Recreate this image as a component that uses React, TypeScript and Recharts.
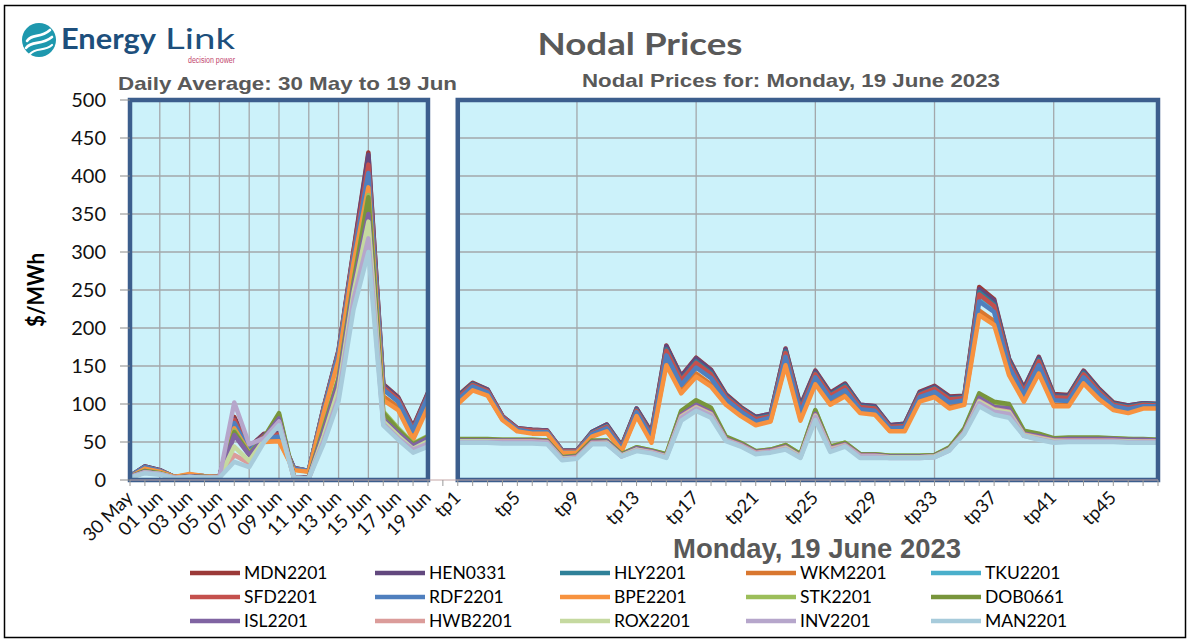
import React from 'react';
import { LineChart, Line, XAxis, YAxis, ReferenceArea, ReferenceLine } from 'recharts';

// ---------- categories & tick labels ----------
const days = ['30 May', '31 May', '01 Jun', '02 Jun', '03 Jun', '04 Jun', '05 Jun', '06 Jun', '07 Jun', '08 Jun', '09 Jun',
  '10 Jun', '11 Jun', '12 Jun', '13 Jun', '14 Jun', '15 Jun', '16 Jun', '17 Jun', '18 Jun', '19 Jun'];
const GAP = ' ';
const tps = ['tp1', 'tp2', 'tp3', 'tp4', 'tp5', 'tp6', 'tp7', 'tp8', 'tp9', 'tp10', 'tp11', 'tp12', 'tp13', 'tp14', 'tp15', 'tp16',
  'tp17', 'tp18', 'tp19', 'tp20', 'tp21', 'tp22', 'tp23', 'tp24', 'tp25', 'tp26', 'tp27', 'tp28', 'tp29', 'tp30', 'tp31', 'tp32',
  'tp33', 'tp34', 'tp35', 'tp36', 'tp37', 'tp38', 'tp39', 'tp40', 'tp41', 'tp42', 'tp43', 'tp44', 'tp45', 'tp46', 'tp47', 'tp48'];
const shownTickLabels = ['30 May', '01 Jun', '03 Jun', '05 Jun', '07 Jun', '09 Jun', '11 Jun', '13 Jun', '15 Jun', '17 Jun', '19 Jun',
  'tp1', 'tp5', 'tp9', 'tp13', 'tp17', 'tp21', 'tp25', 'tp29', 'tp33', 'tp37', 'tp41', 'tp45'];
const dayGridCats = ['01 Jun', '03 Jun', '05 Jun', '07 Jun', '09 Jun', '11 Jun', '13 Jun', '15 Jun', '17 Jun'];
const tpGridCats = ['tp9', 'tp17', 'tp25', 'tp33', 'tp41'];
const yTicks = [0, 50, 100, 150, 200, 250, 300, 350, 400, 450, 500];
const yGrid = [50, 100, 150, 200, 250, 300, 350, 400, 450];

// ---------- daily averages (30 May .. 19 Jun) ----------
const MDN2201_daily = [5, 18, 13, 4, 6, 5, 4, 83, 43, 61, 62, 16, 12, 96, 171, 302, 431, 126, 109, 70, 115];
const HEN0331_daily = [5, 18, 13, 4, 6, 5, 4, 80, 43, 60, 62, 16, 12, 95, 170, 300, 428, 125, 108, 69, 114];
const HLY2201_daily = [5, 17, 12, 4, 6, 5, 4, 77, 41, 58, 59, 15, 12, 94, 168, 296, 410, 122, 106, 67, 112];
const WKM2201_daily = [5, 16, 12, 4, 7, 5, 4, 70, 37, 53, 53, 14, 11, 90, 161, 289, 390, 110, 96, 58, 100];
const TKU2201_daily = [5, 17, 12, 4, 6, 5, 4, 76, 40, 57, 58, 15, 12, 93, 167, 294, 406, 120, 104, 65, 110];
const SFD2201_daily = [5, 17, 12, 4, 6, 5, 4, 79, 41, 58, 60, 15, 12, 94, 168, 297, 415, 122, 106, 67, 112];
const RDF2201_daily = [5, 17, 12, 4, 6, 5, 4, 75, 39, 56, 57, 15, 12, 92, 166, 292, 404, 119, 103, 65, 110];
const BPE2201_daily = [4, 15, 11, 4, 8, 5, 4, 68, 36, 50, 51, 13, 11, 88, 158, 285, 385, 105, 92, 53, 96];
const STK2201_daily = [4, 12, 9, 3, 5, 4, 3, 65, 35, 55, 86, 4, 3, 70, 135, 262, 375, 90, 68, 48, 58];
const DOB0661_daily = [4, 12, 9, 3, 5, 4, 3, 63, 34, 56, 88, 4, 3, 68, 133, 260, 372, 88, 66, 47, 57];
const ISL2201_daily = [4, 11, 8, 3, 5, 4, 3, 59, 33, 55, 81, 4, 3, 65, 130, 255, 350, 80, 62, 45, 55];
const HWB2201_daily = [3, 10, 8, 3, 4, 3, 3, 33, 22, 52, 75, 3, 2, 56, 116, 242, 335, 76, 57, 40, 50];
const ROX2201_daily = [3, 10, 8, 3, 4, 3, 3, 44, 25, 53, 76, 3, 2, 58, 120, 246, 340, 77, 58, 41, 51];
const INV2201_daily = [4, 10, 8, 3, 4, 3, 3, 102, 47, 55, 77, 3, 2, 52, 110, 237, 318, 74, 55, 40, 48];
const MAN2201_daily = [3, 9, 7, 2, 4, 3, 3, 24, 17, 50, 72, 3, 2, 48, 104, 224, 300, 72, 53, 36, 44];

// ---------- trading periods, Monday 19 June 2023 ----------
const MDN2201_tp = [111, 128, 119, 84, 68, 66, 65, 39, 39, 63, 73, 45, 94, 63, 177, 137, 161, 145, 113, 96, 83, 87, 173, 98, 144, 115, 127, 99, 97, 72, 74, 116, 124, 110, 111, 254, 238, 160, 121, 162, 113, 112, 144, 121, 102, 98, 101, 100];
const HEN0331_tp = [110, 127, 119, 84, 68, 66, 65, 39, 39, 63, 73, 45, 94, 62, 176, 136, 160, 144, 112, 95, 83, 87, 172, 97, 143, 114, 126, 99, 97, 72, 74, 115, 123, 109, 110, 251, 236, 159, 120, 161, 112, 111, 143, 120, 101, 98, 101, 100];
const HLY2201_tp = [109, 126, 117, 83, 67, 65, 64, 38, 38, 62, 71, 44, 92, 60, 172, 132, 156, 141, 110, 94, 81, 85, 169, 94, 140, 112, 124, 97, 95, 70, 72, 113, 121, 107, 109, 247, 231, 156, 117, 158, 110, 109, 141, 118, 100, 96, 100, 99];
const WKM2201_tp = [102, 120, 112, 80, 65, 62, 62, 36, 36, 58, 65, 39, 86, 51, 155, 117, 140, 126, 101, 86, 74, 79, 154, 81, 129, 101, 113, 90, 88, 65, 66, 105, 111, 96, 101, 223, 209, 141, 106, 143, 99, 99, 130, 109, 94, 90, 95, 95];
const TKU2201_tp = [107, 124, 116, 82, 66, 64, 63, 38, 38, 61, 70, 42, 90, 58, 167, 128, 151, 137, 108, 91, 79, 83, 165, 90, 137, 109, 121, 95, 93, 69, 70, 111, 118, 104, 106, 240, 225, 152, 114, 154, 107, 106, 138, 116, 98, 94, 98, 98];
const SFD2201_tp = [108, 125, 117, 83, 67, 65, 64, 38, 38, 61, 70, 43, 91, 59, 170, 131, 154, 139, 109, 93, 80, 84, 167, 92, 139, 111, 122, 96, 94, 70, 71, 112, 120, 106, 108, 244, 229, 154, 116, 156, 109, 108, 139, 117, 99, 95, 99, 98];
const RDF2201_tp = [105, 123, 115, 81, 66, 63, 63, 37, 37, 60, 68, 41, 89, 56, 164, 125, 148, 134, 106, 90, 77, 82, 162, 88, 135, 107, 118, 93, 91, 68, 69, 109, 116, 102, 105, 235, 221, 149, 112, 151, 105, 104, 135, 114, 97, 93, 97, 97];
const BPE2201_tp = [100, 118, 111, 79, 64, 61, 61, 36, 36, 57, 64, 38, 84, 49, 151, 114, 136, 123, 99, 84, 72, 77, 151, 78, 126, 99, 110, 88, 86, 64, 64, 103, 109, 94, 99, 217, 204, 138, 103, 140, 97, 97, 127, 107, 92, 88, 94, 94];
const STK2201_tp = [53, 53, 53, 53, 53, 53, 52, 30, 32, 51, 52, 34, 43, 39, 34, 90, 104, 93, 56, 48, 38, 40, 46, 34, 91, 44, 49, 34, 34, 32, 32, 32, 33, 42, 67, 112, 101, 98, 64, 60, 54, 55, 55, 55, 55, 54, 53, 53];
const DOB0661_tp = [54, 54, 54, 53, 53, 53, 52, 30, 32, 52, 52, 34, 43, 39, 34, 91, 105, 95, 57, 49, 38, 40, 46, 34, 92, 44, 49, 34, 34, 32, 32, 32, 33, 43, 68, 114, 103, 100, 65, 61, 55, 56, 56, 56, 55, 54, 54, 53];
const ISL2201_tp = [52, 52, 52, 52, 52, 52, 51, 29, 31, 50, 51, 33, 42, 38, 32, 86, 99, 89, 54, 47, 37, 39, 44, 32, 87, 42, 47, 33, 33, 31, 31, 31, 32, 41, 64, 108, 96, 94, 61, 58, 53, 54, 54, 54, 54, 53, 53, 52];
const HWB2201_tp = [51, 51, 51, 51, 51, 51, 50, 28, 30, 49, 49, 32, 40, 37, 31, 84, 96, 87, 53, 46, 36, 38, 43, 31, 85, 41, 46, 32, 32, 30, 30, 30, 31, 40, 63, 104, 93, 90, 60, 56, 52, 52, 52, 52, 52, 51, 51, 51];
const ROX2201_tp = [51, 51, 51, 50, 50, 50, 49, 28, 29, 48, 49, 32, 40, 36, 31, 83, 95, 86, 52, 45, 35, 37, 42, 31, 84, 40, 45, 31, 31, 30, 30, 30, 31, 40, 62, 103, 92, 89, 59, 55, 51, 51, 51, 51, 51, 51, 50, 50];
const INV2201_tp = [50, 50, 50, 50, 50, 50, 49, 27, 29, 48, 48, 31, 39, 36, 30, 82, 94, 85, 52, 45, 35, 37, 41, 30, 83, 39, 45, 31, 31, 29, 29, 29, 30, 39, 62, 101, 90, 87, 58, 54, 50, 51, 51, 51, 51, 50, 50, 50];
const MAN2201_tp = [49, 49, 49, 48, 48, 48, 47, 26, 28, 47, 47, 31, 38, 35, 29, 78, 91, 82, 51, 44, 34, 36, 40, 29, 79, 37, 44, 29, 29, 29, 29, 29, 30, 39, 61, 97, 86, 82, 58, 53, 49, 50, 50, 50, 50, 49, 49, 49];

const seriesNames = ['MDN2201', 'HEN0331', 'HLY2201', 'WKM2201', 'TKU2201', 'SFD2201', 'RDF2201', 'BPE2201',
  'STK2201', 'DOB0661', 'ISL2201', 'HWB2201', 'ROX2201', 'INV2201', 'MAN2201'];
const seriesColors = ['#9B3A38', '#62487E', '#2F8199', '#D9772F', '#4AAFCB', '#C4504D', '#4F7FBE', '#F7923F',
  '#9CBE5A', '#78953B', '#8064A2', '#DB9C9A', '#C5D9A0', '#B6A6CB', '#A7CBDB'];
const dailyValues = [MDN2201_daily, HEN0331_daily, HLY2201_daily, WKM2201_daily, TKU2201_daily, SFD2201_daily, RDF2201_daily,
  BPE2201_daily, STK2201_daily, DOB0661_daily, ISL2201_daily, HWB2201_daily, ROX2201_daily, INV2201_daily, MAN2201_daily];
const tpValues = [MDN2201_tp, HEN0331_tp, HLY2201_tp, WKM2201_tp, TKU2201_tp, SFD2201_tp, RDF2201_tp,
  BPE2201_tp, STK2201_tp, DOB0661_tp, ISL2201_tp, HWB2201_tp, ROX2201_tp, INV2201_tp, MAN2201_tp];

const categories = [...days, GAP, ...tps];
const data = categories.map((cat, i) => {
  const row: Record<string, any> = { cat };
  seriesNames.forEach((name, s) => {
    if (i < days.length) row[name] = dailyValues[s][i];
    else if (i === days.length) row[name] = null;
    else row[name] = tpValues[s][i - days.length - 1];
  });
  return row;
});

const PANEL_FILL = '#CCF2FA';
const PANEL_BORDER = '#3C5E8D';
const GRID = '#A3A7AA';
const TITLE_GRAY = '#595959';

const renderXTick = (props: any) => {
  const { x, y, payload } = props;
  const v = payload && payload.value;
  if (!shownTickLabels.includes(v)) return <g />;
  const ax = Number(x) + 4;
  const ay = Number(y) + 11;
  return (
    <text x={0} y={0} transform={`matrix(0.7071 -0.7071 0.7071 0.7071 ${ax} ${ay})`} textAnchor="end"
      fontFamily="Lato, 'Liberation Sans', sans-serif" fontSize={18.5} fill="#111">
      {v}
    </text>
  );
};

const legendCols = [190, 375, 560, 746, 931];
const legendRows = [573, 597, 621];

export default function App() {
  return (
    <div style={{ position: 'absolute', left: 0, top: 0, width: 1190, height: 642, background: '#fff' }}>
      <div style={{ position: 'absolute', left: 0, top: 0 }}>
        <LineChart width={1190} height={642} data={data} margin={{ top: 100, right: 32, bottom: 102, left: 70 }}>
          <XAxis dataKey="cat" interval={0} height={60} tick={renderXTick} tickSize={6}
            tickLine={{ stroke: '#9A9A9A' }} axisLine={{ stroke: '#C4A6A6' }} />
          <YAxis domain={[0, 500]} ticks={yTicks} width={60} tickSize={10} tickMargin={14} axisLine={false}
            tickLine={{ stroke: '#8A8A8A' }}
            tick={{ fontFamily: "Lato, 'Liberation Sans', sans-serif", fontSize: 20, fill: '#111' }} />
          <ReferenceArea x1={days[0]} x2={days[days.length - 1]} y1={0} y2={500} fill={PANEL_FILL} fillOpacity={1}
            stroke="none" ifOverflow="visible" zIndex={-300} />
          <ReferenceArea x1={tps[0]} x2={tps[tps.length - 1]} y1={0} y2={500} fill={PANEL_FILL} fillOpacity={1}
            stroke="none" ifOverflow="visible" zIndex={-300} />
          {yGrid.map((v) => (
            <ReferenceLine key={'hd' + v} segment={[{ x: days[0], y: v }, { x: days[days.length - 1], y: v }]}
              stroke={GRID} strokeWidth={1.3} zIndex={-200} />
          ))}
          {yGrid.map((v) => (
            <ReferenceLine key={'ht' + v} segment={[{ x: tps[0], y: v }, { x: tps[tps.length - 1], y: v }]}
              stroke={GRID} strokeWidth={1.3} zIndex={-200} />
          ))}
          {[...dayGridCats, ...tpGridCats, tps[tps.length - 1]].map((c) => (
            <ReferenceLine key={'v' + c} x={c} stroke={GRID} strokeWidth={1.3} zIndex={-200} />
          ))}
          {seriesNames.map((name, s) => (
            <Line key={name} type="linear" dataKey={name} stroke={seriesColors[s]} strokeWidth={4.5}
              strokeLinejoin="round" dot={false} activeDot={false} isAnimationActive={false} />
          ))}
          <ReferenceArea x1={days[0]} x2={days[days.length - 1]} y1={0} y2={500} fill="none" fillOpacity={0}
            stroke={PANEL_BORDER} strokeWidth={4.5} ifOverflow="visible" zIndex={450} />
          <ReferenceArea x1={tps[0]} x2={tps[tps.length - 1]} y1={0} y2={500} fill="none" fillOpacity={0}
            stroke={PANEL_BORDER} strokeWidth={4.5} ifOverflow="visible" zIndex={450} />
        </LineChart>
      </div>
      <svg width={1190} height={642} style={{ position: 'absolute', left: 0, top: 0, pointerEvents: 'none' }}>
        <rect x={4.5} y={5.5} width={1181} height={632} fill="none" stroke="#000" strokeWidth={1.5} />
        {/* logo */}
        <circle cx={39} cy={40} r={17} fill="#1E98AE" />
        <path d="M27 41 C 32 33, 40 39, 50 30" stroke="#fff" strokeWidth={2.6} fill="none" strokeLinecap="round" />
        <path d="M26 48 C 32 40, 41 46, 52 37" stroke="#fff" strokeWidth={2.6} fill="none" strokeLinecap="round" />
        <path d="M30 54 C 36 47, 44 52, 52 45" stroke="#fff" strokeWidth={2.2} fill="none" strokeLinecap="round" />
        <text x={61} y={49} fontFamily="Lato, sans-serif" fontWeight={700} fontSize={29} fill="#1D4F7C"
          textLength={95} lengthAdjust="spacingAndGlyphs">Energy</text>
        <text x={165} y={49} fontFamily="Lato, sans-serif" fontWeight={400} fontSize={29} fill="#1D4F7C"
          textLength={70} lengthAdjust="spacingAndGlyphs">Link</text>
        <text x={188} y={63} fontFamily="'Liberation Sans', sans-serif" fontSize={8.5} fill="#C2466E"
          textLength={47} lengthAdjust="spacingAndGlyphs">decision power</text>
        {/* titles */}
        <text x={640} y={55} textAnchor="middle" fontFamily="Lato, sans-serif" fontWeight={700} fontSize={31}
          fill={TITLE_GRAY} textLength={205} lengthAdjust="spacingAndGlyphs">Nodal Prices</text>
        <text x={118} y={90} fontFamily="'Liberation Sans', Arial, sans-serif" fontWeight={700} fontSize={18.5}
          fill={TITLE_GRAY} textLength={339} lengthAdjust="spacingAndGlyphs">Daily Average: 30 May to 19 Jun</text>
        <text x={582} y={87} fontFamily="'Liberation Sans', Arial, sans-serif" fontWeight={700} fontSize={18.5}
          fill={TITLE_GRAY} textLength={418} lengthAdjust="spacingAndGlyphs">Nodal Prices for: Monday, 19 June 2023</text>
        <text x={673} y={558} fontFamily="'Liberation Sans Narrow', 'Liberation Sans', Arial, sans-serif" fontWeight={700}
          fontSize={27} fill={TITLE_GRAY} textLength={288} lengthAdjust="spacingAndGlyphs">Monday, 19 June 2023</text>
        <text x={0} y={0} transform="translate(44 290) rotate(-90)" textAnchor="middle" fontFamily="Lato, sans-serif"
          fontWeight={700} fontSize={22} fill="#000" textLength={74} lengthAdjust="spacingAndGlyphs">$/MWh</text>
        {/* legend */}
        {seriesNames.map((name, s) => {
          const cx = legendCols[s % 5];
          const cy = legendRows[Math.floor(s / 5)];
          return (
            <g key={'lg' + name}>
              <line x1={cx} y1={cy} x2={cx + 50} y2={cy} stroke={seriesColors[s]} strokeWidth={4.5} />
              <text x={cx + 54} y={cy + 6} fontFamily="Lato, 'Liberation Sans', sans-serif" fontSize={17.5} fill="#000">
                {name}
              </text>
            </g>
          );
        })}
      </svg>
    </div>
  );
}
